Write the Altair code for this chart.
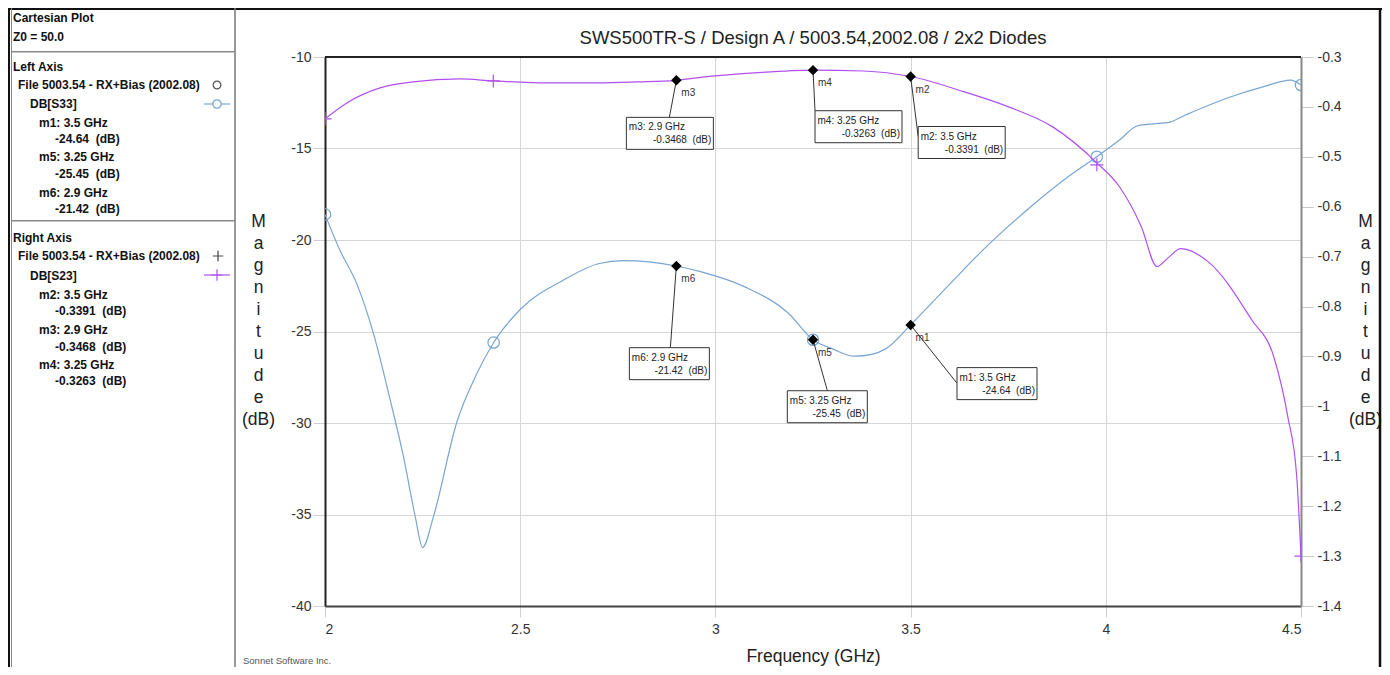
import altair as alt
import pandas as pd

# ---------------- data ----------------
s33_freq = [2.000, 2.038, 2.081, 2.124, 2.167, 2.201, 2.231, 2.250, 2.278, 2.337,
            2.389, 2.432, 2.500, 2.611, 2.700, 2.765, 2.830, 2.900, 2.962, 3.074,
            3.187, 3.250, 3.300, 3.356, 3.400, 3.436, 3.500, 3.594, 3.685, 3.808,
            3.900, 3.977, 4.035, 4.080, 4.120, 4.159, 4.204, 4.317, 4.400, 4.474, 4.500]
s33_db = [-18.60, -20.55, -22.37, -25.10, -28.74, -31.84, -35.10, -36.80, -35.10, -30.00,
          -27.30, -25.60, -23.80, -22.19, -21.30, -21.13, -21.20, -21.42, -21.73, -22.55,
          -24.00, -25.45, -25.95, -26.35, -26.25, -25.95, -24.64, -22.55, -20.55, -18.18,
          -16.60, -15.45, -14.54, -13.77, -13.65, -13.59, -13.17, -12.20, -11.65, -11.26, -11.53]

s23_freq = [2.000, 2.056, 2.141, 2.226, 2.346, 2.431, 2.577, 2.697, 2.800, 2.900,
            2.962, 3.100, 3.250, 3.380, 3.500, 3.638, 3.751, 3.864, 3.977, 4.035,
            4.091, 4.131, 4.160, 4.192, 4.265, 4.374, 4.430, 4.466, 4.489, 4.500]
s23_db = [-0.424, -0.392, -0.362, -0.350, -0.344, -0.348, -0.352, -0.352, -0.350, -0.3468,
          -0.341, -0.332, -0.3263, -0.328, -0.3391, -0.370, -0.400, -0.440, -0.512, -0.560,
          -0.640, -0.720, -0.702, -0.684, -0.712, -0.827, -0.900, -1.020, -1.140, -1.300]

s33_sym_freq = [2.0, 2.432, 3.25, 3.977, 4.5]
s33_sym_db = [-18.6, -25.6, -25.45, -15.45, -11.53]
s23_sym_freq = [2.0, 2.431, 3.977, 4.5]
s23_sym_db = [-0.424, -0.348, -0.516, -1.30]

marker_names = ["m1", "m5", "m6", "m2", "m3", "m4"]
marker_freq = [3.5, 3.25, 2.9, 3.5, 2.9, 3.25]
marker_db = [-24.64, -25.45, -21.42, -0.3391, -0.3468, -0.3263]
marker_side = ["left", "left", "left", "right", "right", "right"]

x_ticks = [2, 2.5, 3, 3.5, 4, 4.5]
left_ticks = [-40, -35, -30, -25, -20, -15, -10]
right_ticks = [-1.4, -1.3, -1.2, -1.1, -1, -0.9, -0.8, -0.7, -0.6, -0.5, -0.4, -0.3]

title_text = "SWS500TR-S / Design A / 5003.54,2002.08 / 2x2 Diodes"
x_title = "Frequency (GHz)"
y_title = ["M", "a", "g", "n", "i", "t", "u", "d", "e", "", "(dB)"]
file_label = "File 5003.54 - RX+Bias (2002.08)"

# ---------------- styling ----------------
FONT = "Liberation Sans"
BLUE = "#78a5d2"
PURPLE = "#b050f0"
W, H = 976, 549

xscale = alt.Scale(domain=[2, 4.5], nice=False, zero=False)
lscale = alt.Scale(domain=[-40, -10], nice=False, zero=False)
rscale = alt.Scale(domain=[-1.4, -0.3], nice=False, zero=False)

x_axis = alt.Axis(values=x_ticks, labelExpr="toString(datum.value)", grid=True,
                  gridColor="#d6d6d6", gridWidth=1, domainColor="#444", domainWidth=2,
                  tickColor="#d0d0d0", tickSize=11, tickWidth=1, labelFont=FONT,
                  labelFontSize=14, labelColor="#333", labelPadding=5, orient="bottom",
                  title=x_title, titleFont=FONT, titleFontSize=17.5, titleFontWeight="normal",
                  titleColor="#222", titleBaseline="alphabetic", titleY=55)
l_axis = alt.Axis(values=left_ticks, labelExpr="toString(datum.value)", grid=True,
                  gridColor="#d6d6d6", gridWidth=1, domainColor="#222", domainWidth=2,
                  tickColor="#d0d0d0", tickSize=12, tickWidth=1, labelFont=FONT,
                  labelFontSize=14, labelColor="#333", labelPadding=2, orient="left",
                  title=y_title, titleAngle=0, titleX=-67, titleY=169, titleAlign="center",
                  titleBaseline="alphabetic", titleFont=FONT, titleFontSize=17.5,
                  titleFontWeight="normal", titleColor="#222", titleLineHeight=22)
r_axis = alt.Axis(values=right_ticks, labelExpr="toString(datum.value)", grid=False,
                  domainColor="#888", domainWidth=2, tickColor="#c8c8c8", tickSize=12,
                  tickWidth=1, labelFont=FONT, labelFontSize=14, labelColor="#333",
                  labelPadding=4, orient="right",
                  title=y_title, titleAngle=0, titleX=64, titleY=169, titleAlign="center",
                  titleBaseline="alphabetic", titleFont=FONT, titleFontSize=17.5,
                  titleFontWeight="normal", titleColor="#222", titleLineHeight=22)


def X():
    return alt.X("f:Q", scale=xscale, axis=x_axis)


def Y(side):
    if side == "left":
        return alt.Y("v:Q", scale=lscale, axis=l_axis)
    return alt.Y("v:Q", scale=rscale, axis=r_axis)


s33 = pd.DataFrame({"f": s33_freq, "v": s33_db})
s23 = pd.DataFrame({"f": s23_freq, "v": s23_db})
s33s = pd.DataFrame({"f": s33_sym_freq, "v": s33_sym_db})
s23s = pd.DataFrame({"f": s23_sym_freq, "v": s23_sym_db})
one = pd.DataFrame({"k": [0]})

CROSS = "M-1,0H1M0,-1V1"

left_layers = [
    alt.Chart(s33).mark_line(color=BLUE, strokeWidth=1.2, interpolate="monotone", clip=True)
    .encode(x=X(), y=Y("left")),
    alt.Chart(s33s).mark_point(shape="circle", filled=False, color=BLUE, size=130,
                               strokeWidth=1.2, clip=True, opacity=1)
    .encode(x=X(), y=Y("left")),
]
right_layers = [
    alt.Chart(s23).mark_line(color=PURPLE, strokeWidth=1.2, interpolate="monotone", clip=True)
    .encode(x=X(), y=Y("right")),
    alt.Chart(s23s).mark_point(shape=CROSS, filled=False, color=PURPLE, size=170,
                               strokeWidth=1.2, clip=True, opacity=1)
    .encode(x=X(), y=Y("right")),
]

# marker annotation layout (pixel offsets from the marker point)
ann_layout = {
    "m3": dict(x0=-50, y0=37, w=87, lead=(-7, 37)),
    "m4": dict(x0=2, y0=40.6, w=87, lead=(2, 40.6)),
    "m2": dict(x0=7.6, y0=50, w=87, lead=(7.6, 60)),
    "m6": dict(x0=-47, y0=81.7, w=80, lead=(-6, 81.7)),
    "m5": dict(x0=-25.7, y0=51, w=80, lead=(14.4, 51)),
    "m1": dict(x0=46.4, y0=42.7, w=80, lead=(46.4, 58.3)),
}

for name, f, v, side in zip(marker_names, marker_freq, marker_db, marker_side):
    L = ann_layout[name]
    d = pd.DataFrame({"f": [f], "v": [v], "name": [name],
                      "l1": [f"{name}: {f} GHz"], "l2": [f"{v}\u00a0 (dB)"]})
    base = alt.Chart(d)
    x0, y0, w = L["x0"], L["y0"], L["w"]
    layers = [
        base.mark_rule(color="#333", strokeWidth=1, x2Offset=L["lead"][0], y2Offset=L["lead"][1])
        .encode(x=X(), y=Y(side), x2="f:Q", y2="v:Q"),
        base.mark_rect(fill="white", stroke="#333", strokeWidth=1, xOffset=x0,
                       x2Offset=x0 + w, yOffset=y0, y2Offset=y0 + 32)
        .encode(x=X(), y=Y(side), x2="f:Q", y2="v:Q"),
        base.mark_text(align="left", baseline="middle", dx=x0 + 2.5, dy=y0 + 10, font=FONT,
                       fontSize=10, color="#222")
        .encode(x=X(), y=Y(side), text="l1:N"),
        base.mark_text(align="right", baseline="middle", dx=x0 + w - 2, dy=y0 + 23, font=FONT,
                       fontSize=10, color="#222")
        .encode(x=X(), y=Y(side), text="l2:N"),
        base.mark_text(align="left", baseline="middle", dx=5, dy=13, font=FONT,
                       fontSize=10, color="#333")
        .encode(x=X(), y=Y(side), text="name:N"),
        base.mark_point(shape="diamond", filled=True, color="black", size=110, opacity=1)
        .encode(x=X(), y=Y(side)),
    ]
    (left_layers if side == "left" else right_layers).extend(layers)

# ---------------- decorations: left info panel, frames, title, footnote ----------------
deco = []


def hline(x1, x2, y, color, width):
    deco.append(alt.Chart(one).mark_rule(color=color, strokeWidth=width)
                .encode(x=alt.value(x1), x2=alt.value(x2), y=alt.value(y)))


def vline(x, y1, y2, color, width):
    deco.append(alt.Chart(one).mark_rule(color=color, strokeWidth=width)
                .encode(x=alt.value(x), y=alt.value(y1), y2=alt.value(y2)))


def label(text, x, y, size=12, bold=True, color="#111", align="left", baseline="middle"):
    deco.append(alt.Chart(one).mark_text(text=text, align=align, baseline=baseline, font=FONT,
                                         fontSize=size, fontWeight="bold" if bold else "normal",
                                         color=color)
                .encode(x=alt.value(x), y=alt.value(y)))


# outer frame and panel separators
hline(-317, 1058, -48, "#111", 2)
vline(-316, -49, 620, "#111", 2)
vline(-313.5, -49, 620, "#888", 1)
vline(1055, -49, 620, "#111", 2.5)
vline(-90, -49, 620, "#777", 1.5)
hline(-313, -90, -5.3, "#888", 1.5)
hline(-313, -90, 163.7, "#888", 1.5)
# top edge of plot frame
hline(0, W, 0, "#222", 2)

panel_text = [
    ("Cartesian Plot", 0), ("Z0 = 50.0", 0),
    ("Left Axis", 0), (file_label, 1), ("DB[S33]", 2),
]
for name, f, v, side in zip(marker_names, marker_freq, marker_db, marker_side):
    if side == "left":
        panel_text += [(f"{name}: {f} GHz", 3), (f"{v}\u00a0 (dB)", 4)]
panel_text += [("Right Axis", 0), (file_label, 1), ("DB[S23]", 2)]
right_order = ["m2", "m3", "m4"]
for nm in right_order:
    i = marker_names.index(nm)
    panel_text += [(f"{nm}: {marker_freq[i]} GHz", 3), (f"{marker_db[i]}\u00a0 (dB)", 4)]

panel_y = [-38.7, -19.7, 9.7, 28, 47, 66.3, 82.3, 100.3, 117, 135.7, 152,
           181.3, 199, 219, 238, 253.7, 273, 289.7, 308, 323.7]
indent_x = {0: -312, 1: -307, 2: -295, 3: -286, 4: -270}
for (t, lvl), yy in zip(panel_text, panel_y):
    label(t, indent_x[lvl], yy)

# legend symbols in the panel
deco.append(alt.Chart(one).mark_point(shape="circle", filled=False, color="#555", size=60,
                                      strokeWidth=1.2, opacity=1)
            .encode(x=alt.value(-108), y=alt.value(28)))
hline(-121, -95, 47, BLUE, 1.2)
deco.append(alt.Chart(one).mark_point(shape="circle", filled=True, fill="white", stroke=BLUE,
                                      size=70, strokeWidth=1.2, opacity=1)
            .encode(x=alt.value(-108), y=alt.value(47)))
deco.append(alt.Chart(one).mark_point(shape=CROSS, filled=False, color="#444", size=110,
                                      strokeWidth=1.2, opacity=1)
            .encode(x=alt.value(-107), y=alt.value(199)))
hline(-121, -95, 218, PURPLE, 1.2)
deco.append(alt.Chart(one).mark_point(shape=CROSS, filled=False, color=PURPLE, size=130,
                                      strokeWidth=1.2, opacity=1)
            .encode(x=alt.value(-108), y=alt.value(218)))

# chart title and footnote
label(title_text, W / 2, -13, size=18.5, bold=False, color="#222", align="center",
      baseline="alphabetic")
label("Sonnet Software Inc.", -82, 604, size=9.5, bold=False, color="#555")

left = alt.layer(*left_layers, *deco)
right = alt.layer(*right_layers)

chart = (
    alt.layer(left, right, data=one)
    .resolve_scale(y="independent")
    .properties(
        width=W, height=H,
        autosize=alt.AutoSizeParams(type="none"),
        padding={"left": 317, "top": 49, "right": 81, "bottom": 61},
        background="white",
    )
    .configure_view(stroke=None)
)

chart.save("out.html", embed_options={"renderer": "svg", "actions": False})
